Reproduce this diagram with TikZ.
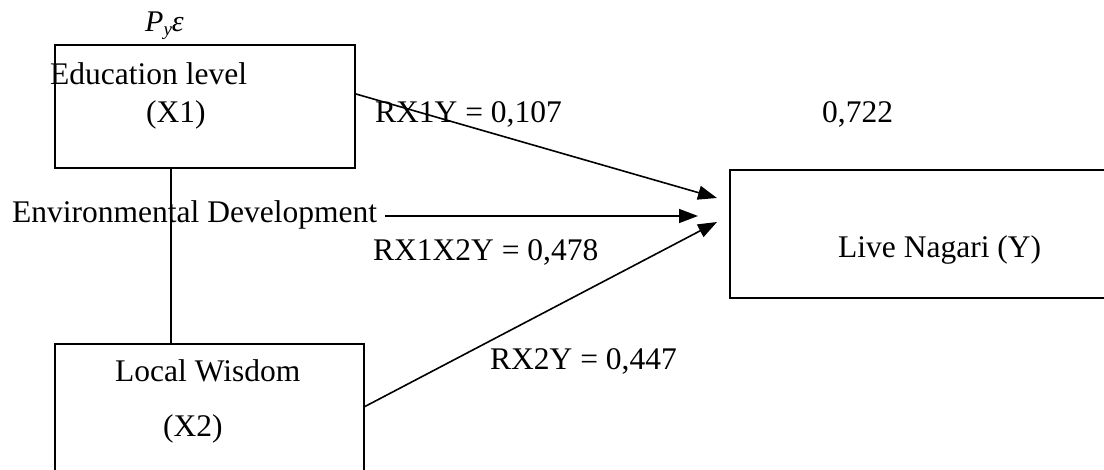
\documentclass[tikz,border=0pt]{standalone}
\usepackage{fontspec}
\setmainfont{Liberation Serif}
\usetikzlibrary{arrows.meta}
\begin{document}
\begin{tikzpicture}[x=1pt,y=-1pt,
  box/.style={draw,line width=1.6pt,inner sep=0pt,anchor=north west},
  txt/.style={anchor=base west,inner sep=0pt,font=\fontsize{31.5}{36}\selectfont},
  conn/.style={line width=1.6pt},
  arr/.style={line width=1.6pt,-{Triangle[length=19pt,width=14pt]}}]
\clip (0,0) rectangle (1104,470);
\useasboundingbox (0,0) rectangle (1104,470);
% boxes
\node[box,minimum width=300pt,minimum height=123pt] (x1) at (54,44) {};
\node[box,minimum width=309pt,minimum height=180pt] (x2) at (54,343) {};
\node[box,minimum width=400pt,minimum height=128pt] (y) at (729,169) {};
% texts
\node[txt,font=\fontsize{30}{32}\selectfont\itshape] (pe) at (145,32) {P\raisebox{-0.25ex}{\fontsize{19}{20}\selectfont y}ε};
\node[txt] (t1) at (50,85) {Education level};
\node[txt] (t1b) at (146,123) {(X1)};
\node[txt] (r1) at (375,123) {RX1Y = 0,107};
\node[txt] (r0) at (822,123) {0,722};
\node[txt] (env) at (12,223) {Environmental Development};
\node[txt] (r12) at (373,261) {RX1X2Y = 0,478};
\node[txt] (ty) at (838,258) {Live Nagari (Y)};
\node[txt] (t2) at (115,382) {Local Wisdom};
\node[txt] (t2b) at (163,437) {(X2)};
\node[txt] (r2) at (490,370) {RX2Y = 0,447};
% connectors
\coordinate (vl) at (171,0);
\coordinate (a1s) at (356,94);
\coordinate (a1e) at (717,198);
\coordinate (a2s) at (385,216);
\coordinate (a2e) at (698,216);
\coordinate (a3s) at (364,407);
\coordinate (a3e) at (717,222);
\draw[conn] (x1.south -| vl) -- (x2.north -| vl);
\draw[arr] (a1s) -- (a1e);
\draw[arr] (a2s) -- (a2e);
\draw[arr] (a3s) -- (a3e);
\end{tikzpicture}
\end{document}
